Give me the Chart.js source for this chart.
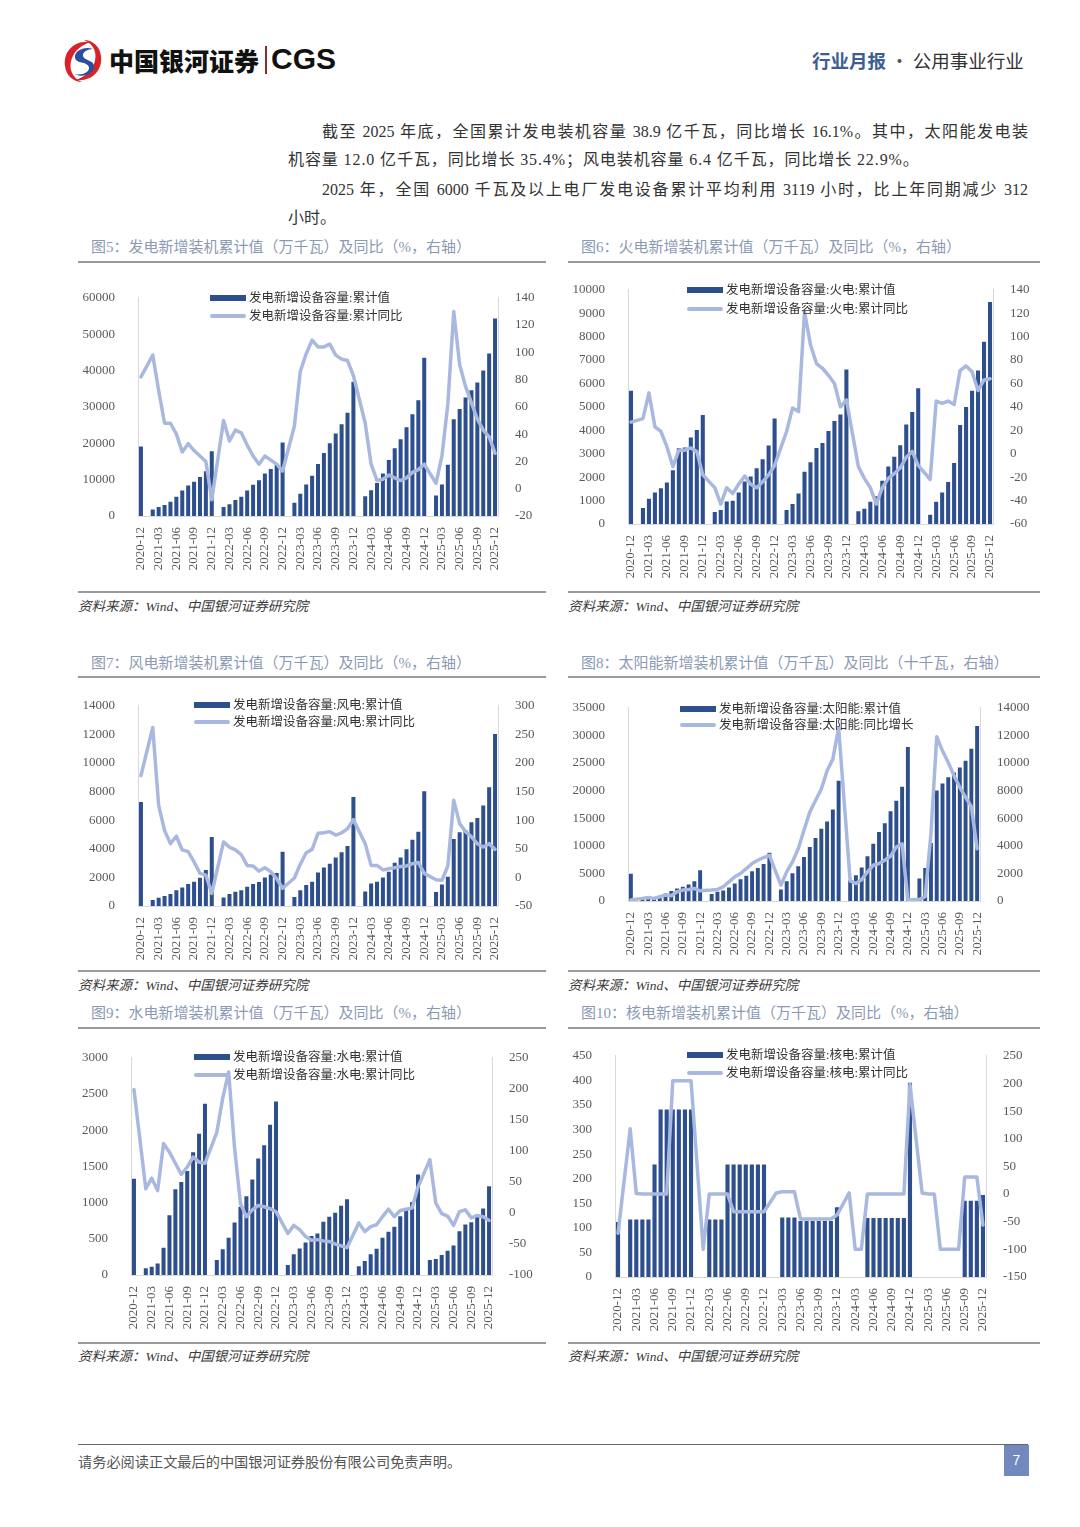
<!DOCTYPE html>
<html>
<head>
<meta charset="utf-8">
<script src="https://cdn.jsdelivr.net/npm/chart.js@4.4.1/dist/chart.umd.min.js"></script>
<style>
  html, body { margin: 0; padding: 0; background: #fff; }
  body { width: 1080px; height: 1527px; position: relative; overflow: hidden;
         font-family: "Liberation Serif", "Noto Sans CJK SC", serif; color: #333; }
  .abs { position: absolute; }
  .para { position: absolute; font-size: 16px; line-height: 20px; white-space: nowrap; color: #333; }
  .just { text-align: justify; text-align-last: justify; white-space: normal; }
  .title { position: absolute; font-size: 15px; color: #8b9ab4; line-height: 20px; white-space: nowrap; }
  .rule { position: absolute; height: 2px; background: #9a9a9a; }
  .src { position: absolute; font-size: 13.5px; font-style: italic; color: #3a3a3a; line-height: 18px; white-space: nowrap; }
  .lg { position: absolute; font-size: 12.5px; color: #333; line-height: 16px; white-space: nowrap; }
  .lg .sw { display: inline-block; width: 36px; vertical-align: middle; margin-right: 3px; position: relative; top: -1px; }
  .lg .bar { height: 6px; background: #2e4f8e; }
  .lg .ln { height: 4px; border-radius: 2px; background: #a9b8df; }
  canvas { position: absolute; }
</style>
</head>
<body>

<!-- header -->
<svg class="abs" style="left:60px;top:38px" width="46" height="46" viewBox="0 0 46 46">
  <path d="M30 4 C14 2 3 14 5 28 C6 38 14 44 22 44 C12 40 8 30 12 20 C15 12 22 7 30 4 Z" fill="#d8232a"/>
  <path d="M16 42 C32 44 43 32 41 18 C40 8 32 2 24 2 C34 6 38 16 34 26 C31 34 24 39 16 42 Z" fill="#d8232a"/>
  <path d="M33 11 C24 8 14 13 15 20 C16 26 27 23 29 29 C30 34 22 38 14 36 C22 40 33 37 34 29 C35 22 24 23 23 18 C22 14 28 11 33 11 Z" fill="#2a4f9e"/>
</svg>
<div class="abs" style="left:109px;top:44px;font-family:'Noto Sans CJK SC';font-weight:900;font-size:25px;line-height:32px;color:#111;">中国银河证券</div>
<div class="abs" style="left:265px;top:46px;width:2px;height:28px;background:#8a2a2a;"></div>
<div class="abs" style="left:271px;top:42px;font-family:'Liberation Sans';font-weight:bold;font-size:30px;line-height:34px;color:#111;">CGS</div>
<div class="abs" style="left:812px;top:48px;font-family:'Noto Sans CJK SC';font-size:18.5px;line-height:24px;white-space:nowrap;">
  <span style="color:#3e5e93;font-weight:bold;">行业月报</span><span style="color:#555;"> · </span><span style="color:#333;">公用事业行业</span>
</div>

<!-- paragraph -->
<div class="para just" style="left:322px;top:122px;width:706px;">截至 2025 年底，全国累计发电装机容量 38.9 亿千瓦，同比增长 16.1%。其中，太阳能发电装</div>
<div class="para" style="left:288px;top:150px;letter-spacing:0.9px;">机容量 12.0 亿千瓦，同比增长 35.4%；风电装机容量 6.4 亿千瓦，同比增长 22.9%。</div>
<div class="para just" style="left:322px;top:180px;width:706px;">2025 年，全国 6000 千瓦及以上电厂发电设备累计平均利用 3119 小时，比上年同期减少 312</div>
<div class="para" style="left:288px;top:208px;">小时。</div>

<!-- row 1 -->
<div class="title" style="left:91px;top:237px;">图5：发电新增装机累计值（万千瓦）及同比（%，右轴）</div>
<div class="title" style="left:581px;top:237px;">图6：火电新增装机累计值（万千瓦）及同比（%，右轴）</div>
<div class="rule" style="left:78px;top:261px;width:468px;"></div>
<div class="rule" style="left:568px;top:261px;width:472px;"></div>
<div class="rule" style="left:78px;top:591px;width:468px;"></div>
<div class="rule" style="left:568px;top:591px;width:472px;"></div>
<div class="src" style="left:78px;top:598px;">资料来源：Wind、中国银河证券研究院</div>
<div class="src" style="left:568px;top:598px;">资料来源：Wind、中国银河证券研究院</div>

<!-- row 2 -->
<div class="title" style="left:91px;top:653px;">图7：风电新增装机累计值（万千瓦）及同比（%，右轴）</div>
<div class="title" style="left:581px;top:653px;">图8：太阳能新增装机累计值（万千瓦）及同比（十千瓦，右轴）</div>
<div class="rule" style="left:78px;top:676px;width:468px;"></div>
<div class="rule" style="left:568px;top:676px;width:472px;"></div>
<div class="rule" style="left:78px;top:970px;width:468px;"></div>
<div class="rule" style="left:568px;top:970px;width:472px;"></div>
<div class="src" style="left:78px;top:977px;">资料来源：Wind、中国银河证券研究院</div>
<div class="src" style="left:568px;top:977px;">资料来源：Wind、中国银河证券研究院</div>

<!-- row 3 -->
<div class="title" style="left:91px;top:1003px;">图9：水电新增装机累计值（万千瓦）及同比（%，右轴）</div>
<div class="title" style="left:581px;top:1003px;">图10：核电新增装机累计值（万千瓦）及同比（%，右轴）</div>
<div class="rule" style="left:78px;top:1027px;width:468px;"></div>
<div class="rule" style="left:568px;top:1027px;width:472px;"></div>
<div class="rule" style="left:78px;top:1342px;width:468px;"></div>
<div class="rule" style="left:568px;top:1342px;width:472px;"></div>
<div class="src" style="left:78px;top:1348px;">资料来源：Wind、中国银河证券研究院</div>
<div class="src" style="left:568px;top:1348px;">资料来源：Wind、中国银河证券研究院</div>

<!-- charts -->
<canvas id="c1" width="468" height="301" style="left:78px;top:275px;"></canvas>
<canvas id="c2" width="472" height="317" style="left:568px;top:267px;"></canvas>
<canvas id="c3" width="468" height="283" style="left:78px;top:683px;"></canvas>
<canvas id="c4" width="472" height="276" style="left:568px;top:685px;"></canvas>
<canvas id="c5" width="468" height="300" style="left:78px;top:1035px;"></canvas>
<canvas id="c6" width="472" height="304" style="left:568px;top:1033px;"></canvas>

<!-- legends -->
<div class="lg" style="left:210px;top:290px;"><span class="sw bar"></span>发电新增设备容量:累计值</div>
<div class="lg" style="left:210px;top:308px;"><span class="sw ln"></span>发电新增设备容量:累计同比</div>
<div class="lg" style="left:687px;top:282px;"><span class="sw bar"></span>发电新增设备容量:火电:累计值</div>
<div class="lg" style="left:687px;top:301px;"><span class="sw ln"></span>发电新增设备容量:火电:累计同比</div>
<div class="lg" style="left:194px;top:697px;"><span class="sw bar"></span>发电新增设备容量:风电:累计值</div>
<div class="lg" style="left:194px;top:714px;"><span class="sw ln"></span>发电新增设备容量:风电:累计同比</div>
<div class="lg" style="left:680px;top:701px;"><span class="sw bar"></span>发电新增设备容量:太阳能:累计值</div>
<div class="lg" style="left:680px;top:717px;"><span class="sw ln"></span>发电新增设备容量:太阳能:同比增长</div>
<div class="lg" style="left:194px;top:1049px;"><span class="sw bar"></span>发电新增设备容量:水电:累计值</div>
<div class="lg" style="left:194px;top:1067px;"><span class="sw ln"></span>发电新增设备容量:水电:累计同比</div>
<div class="lg" style="left:687px;top:1047px;"><span class="sw bar"></span>发电新增设备容量:核电:累计值</div>
<div class="lg" style="left:687px;top:1065px;"><span class="sw ln"></span>发电新增设备容量:核电:累计同比</div>

<!-- footer -->
<div class="abs" style="left:78px;top:1444px;width:950px;height:1px;background:#666;"></div>
<div class="abs" style="left:78px;top:1451px;font-family:'Noto Sans CJK SC';font-size:14.2px;line-height:20px;color:#555;">请务必阅读正文最后的中国银河证券股份有限公司免责声明。</div>
<div class="abs" style="left:1004px;top:1445px;width:25px;height:31px;background:#7189bd;color:#fff;font-size:14px;line-height:31px;text-align:center;font-family:'Liberation Sans';">7</div>

<script>
const months = [
  '2020-12',
  '2021-01','2021-02','2021-03','2021-04','2021-05','2021-06','2021-07','2021-08','2021-09','2021-10','2021-11','2021-12',
  '2022-01','2022-02','2022-03','2022-04','2022-05','2022-06','2022-07','2022-08','2022-09','2022-10','2022-11','2022-12',
  '2023-01','2023-02','2023-03','2023-04','2023-05','2023-06','2023-07','2023-08','2023-09','2023-10','2023-11','2023-12',
  '2024-01','2024-02','2024-03','2024-04','2024-05','2024-06','2024-07','2024-08','2024-09','2024-10','2024-11','2024-12',
  '2025-01','2025-02','2025-03','2025-04','2025-05','2025-06','2025-07','2025-08','2025-09','2025-10','2025-11','2025-12'
];

// 发电 total
const totalCum = [19100,
  null, 1800, 2500, 3000, 3900, 5300, 7000, 8400, 9400, 10750, 12300, 17800,
  null, 2500, 3200, 4400, 5300, 7000, 8600, 9850, 11700, 12900, 14100, 20200,
  null, 3650, 6100, 8660, 11100, 14300, 17300, 20000, 22700, 25250, 28400, 36900,
  null, 5400, 7100, 9100, 11700, 15400, 18600, 21100, 24400, 28000, 31800, 43500,
  null, 5650, 8660, 14100, 26600, 29400, 32600, 34600, 36700, 40000, 44700, 54300];
const totalYoy = [82,
  null, 98, 72, 48, 48, 40, 27, 33, 28, 24, 20, -8,
  null, 50, 35, 43, 41, 32, 24, 18, 24, 21, 18, 13,
  null, 46, 86, 99, 109, 104, 104, 106, 98, 95, 94, 83,
  null, 48, 18, 6, 7, 10, 8, 6, 8, 12, 14, 18,
  null, 4, 24, 62, 130, 91, 75, 63, 51, 43, 38, 26];

// 火电 thermal
const thermalCum = [5690,
  null, 680, 1080, 1350, 1530, 1770, 2300, 3230, 3270, 3690, 4010, 4650,
  null, 510, 600, 960, 990, 1350, 1815, 2030, 2380, 2770, 3350, 4510,
  null, 600, 850, 1300, 2230, 2640, 3250, 3460, 3970, 4400, 4680, 6600,
  null, 540, 650, 950, 1180, 1850, 2450, 2870, 3360, 4250, 4780, 5800,
  null, 400, 950, 1350, 1790, 2600, 4230, 5000, 5690, 6550, 7780, 9480];
const thermalYoy = [27,
  null, 30, 52, 23, 19, 6, -11, 3, 3, 5, 2, -18,
  null, -29, -43, -29, -34, -26, -19, -26, -29, -24, -18, -10,
  null, 19, 39, 36, 121, 93, 77, 73, 67, 60, 40, 46,
  null, -11, -21, -29, -43, -29, -21, -17, -12, -3, 2, -10,
  null, -22, 45, 43, 45, 42, 71, 75, 70, 54, 63, 64];

// 风电 wind
const windCum = [7270,
  null, 420, 580, 700, 840, 1110, 1300, 1530, 1700, 1970, 2510, 4830,
  null, 600, 840, 1000, 1110, 1350, 1530, 1670, 2000, 2200, 2300, 3800,
  null, 630, 1110, 1460, 1700, 2350, 2700, 2950, 3400, 3760, 4200, 7620,
  null, 1020, 1580, 1700, 2000, 2390, 3020, 3400, 3960, 4640, 5200, 8030,
  null, 980, 1510, 2040, 4690, 5150, 5300, 5850, 6150, 7030, 8310, 12030];
const windYoy = [178,
  null, 262, 126, 82, 59, 72, 48, 45, 27, 7, 4, -28,
  null, 62, 53, 48, 40, 21, 20, 11, 17, 10, -2, -19,
  null, -1, 23, 43, 49, 77, 78, 80, 74, 78, 85, 101,
  null, 59, 21, 21, 13, 15, 17, 19, 20, 24, 26, 7,
  null, -4, -5, 20, 135, 94, 80, 71, 59, 53, 59, 49];

// 太阳能 solar
const solarCum = [4920,
  null, 360, 480, 660, 900, 1380, 1800, 2280, 2580, 3000, 3600, 5580,
  null, 1260, 1680, 1920, 2460, 3180, 3960, 4560, 5400, 6000, 6720, 8760,
  null, 2100, 3600, 5040, 6300, 7980, 9780, 11400, 13080, 14400, 16560, 21780,
  null, 3780, 4680, 6060, 8100, 10380, 12480, 14100, 16260, 18180, 20700, 27900,
  null, 4080, 6000, 10500, 20000, 21300, 22400, 23300, 24200, 25400, 27600, 31700];
const solarYoy = [70,
  null, 190, 260, 190, 310, 430, 380, 670, 790, 840, 910, 740,
  null, 790, 840, 1030, 1390, 1750, 1990, 2350, 2710, 2950, 3150, 3310,
  null, 1150, 2110, 2830, 3790, 5120, 6440, 7280, 8120, 9440, 10280, 12560,
  null, 1460, 1270, 1560, 2110, 2590, 2710, 2950, 3240, 3910, 4150, 70,
  null, 120, 310, 4880, 11900, 10880, 10040, 9080, 8240, 7520, 6840, 3790];

// 水电 hydro
const hydroCum = [1330,
  null, 92, 115, 160, 377, 827, 1185, 1286, 1438, 1695, 1952, 2366,
  null, 207, 354, 514, 726, 942, 1089, 1318, 1608, 1791, 2076, 2398,
  null, 138, 285, 367, 450, 537, 574, 735, 804, 859, 955, 1047,
  null, 120, 193, 285, 363, 514, 597, 666, 813, 896, 1010, 1387,
  null, 207, 220, 276, 335, 409, 606, 698, 730, 804, 919, 1226];
const hydroYoy = [199,
  null, 39, 56, 36, 112, 98, 80, 62, 74, 90, 82, 80,
  null, 130, 185, 227, 105, 15, -6, 5, 12, 10, 7, 2,
  null, -33, -20, -27, -38, -44, -43, -45, -46, -50, -53, -56,
  null, -16, -30, -22, -19, -6, 6, -6, 4, 6, 8, 42,
  null, 86, 16, -1, -5, -20, 2, 5, -8, -4, -6, -12];

// 核电 nuclear
const nuclearCum = [112,
  null, 117, 117, 117, 117, 229, 341, 341, 341, 341, 341, 341,
  null, 0, 117, 117, 117, 229, 229, 229, 229, 229, 229, 229,
  null, 0, 121, 121, 121, 114, 114, 114, 114, 114, 114, 142,
  null, 0, 0, 0, 120, 120, 120, 120, 120, 120, 120, 395,
  null, 0, 0, 0, 0, 0, 0, 0, 155, 155, 155, 167];
const nuclearYoy = [-71,
  null, 118, 1, 0, 0, 0, 0, 0, 205, 205, 205, 205,
  null, -100, 0, 0, 0, 0, -32, -32, -32, -32, -32, -32,
  null, 2, 4, 4, 4, -45, -45, -45, -45, -45, -45, -38,
  null, 2, -100, -100, 0, 0, 0, 0, 0, 0, 0, 198,
  null, 2, 0, 0, -100, -100, -100, -100, 31, 31, 31, -56];

const BAR_COLOR = '#2e4f8e';
const LINE_COLOR = '#a9b8df';
const AXIS_COLOR = '#d9d9d9';
const TICK_COLOR = '#595959';
const TICK_FONT = { family: "'Liberation Serif', serif", size: 13 };

function makeChart(id, bars, line, left, right, leftW, rightW) {
  new Chart(document.getElementById(id), {
    data: {
      labels: months,
      datasets: [
        {
          type: 'line', data: line, yAxisID: 'y1', order: 1,
          borderColor: LINE_COLOR, borderWidth: 3.5, pointRadius: 0,
          tension: 0, spanGaps: true, borderJoinStyle: 'round', borderCapStyle: 'round'
        },
        {
          type: 'bar', data: bars, yAxisID: 'y', order: 2,
          backgroundColor: BAR_COLOR, categoryPercentage: 1, barPercentage: 0.68
        }
      ]
    },
    options: {
      responsive: false,
      animation: false,
      layout: { padding: { top: 12, left: 0, right: 0, bottom: 0 } },
      plugins: { legend: { display: false }, tooltip: { enabled: false } },
      scales: {
        x: {
          offset: true,
          grid: { display: false },
          border: { display: true, color: AXIS_COLOR },
          ticks: {
            autoSkip: false, minRotation: 90, maxRotation: 90, padding: 3,
            color: TICK_COLOR, font: TICK_FONT,
            callback: (v, i) => (i % 3 === 0 ? months[i] : '')
          },
          afterFit: s => { s.height = 60; }
        },
        y: {
          position: 'left', min: left[0], max: left[1],
          grid: { display: false },
          border: { display: true, color: AXIS_COLOR },
          ticks: { stepSize: left[2], padding: 15, color: TICK_COLOR, font: TICK_FONT,
                   callback: v => String(v) },
          afterFit: s => { s.width = leftW; }
        },
        y1: {
          position: 'right', min: right[0], max: right[1],
          grid: { display: false },
          border: { display: true, color: AXIS_COLOR },
          ticks: { stepSize: right[2], padding: 9, color: TICK_COLOR, font: TICK_FONT,
                   callback: v => String(v) },
          afterFit: s => { s.width = rightW; }
        }
      }
    }
  });
}

makeChart('c1', totalCum, totalYoy, [0, 60000, 10000], [-20, 140, 20], 60, 48);
makeChart('c2', thermalCum, thermalYoy, [0, 10000, 1000], [-60, 140, 20], 60, 47);
makeChart('c3', windCum, windYoy, [0, 14000, 2000], [-50, 300, 50], 60, 48);
makeChart('c4', solarCum, solarYoy, [0, 35000, 5000], [0, 14000, 2000], 60, 60);
makeChart('c5', hydroCum, hydroYoy, [0, 3000, 500], [-100, 250, 50], 53, 54);
makeChart('c6', nuclearCum, nuclearYoy, [0, 450, 50], [-150, 250, 50], 47, 54);
</script>
</body>
</html>
